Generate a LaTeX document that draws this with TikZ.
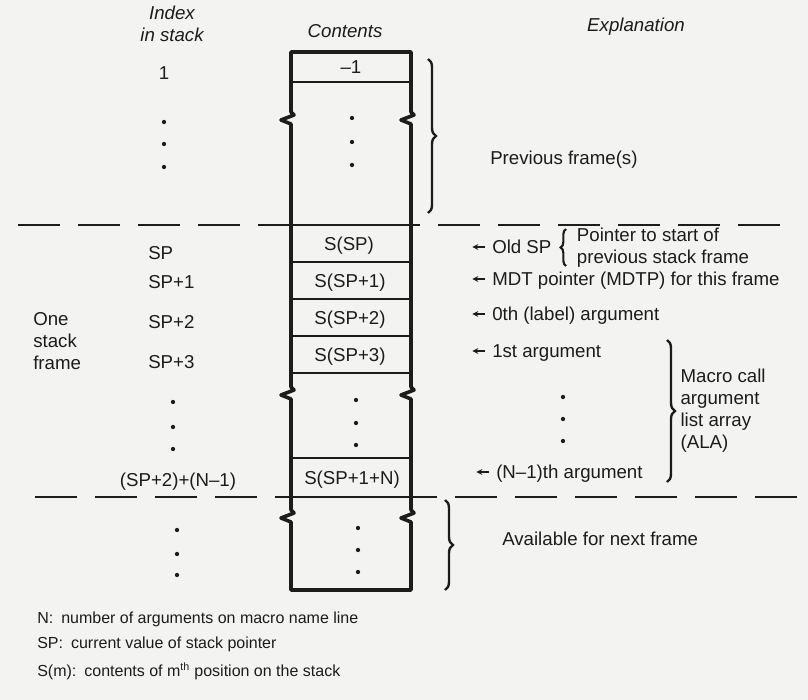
\documentclass[tikz,border=0pt]{standalone}
\usepackage{fontspec}
\setmainfont{Liberation Sans}
\usepackage{tikz}
\usetikzlibrary{arrows.meta, positioning, decorations.pathreplacing}
\definecolor{ink}{RGB}{28,28,28}
\definecolor{paper}{RGB}{243,243,241}
\tikzset{
  hdr/.style={font=\fontsize{14}{16}\selectfont\itshape, inner sep=0pt, text height=10pt, text depth=0pt, text=ink},
  cell/.style={font=\fontsize{14}{16}\selectfont, inner sep=0pt, text height=10pt, text depth=0pt, text=ink},
  lbl/.style={font=\fontsize{14}{16}\selectfont, inner sep=0pt, anchor=west, text height=10pt, text depth=0pt, text=ink},
  multi/.style={font=\fontsize{14}{16.5}\selectfont, inner sep=0pt, anchor=west, align=left, text=ink},
  legend/.style={font=\fontsize{12}{14}\selectfont, inner sep=0pt, anchor=west, text height=9pt, text depth=0pt, text=ink},
  vdot/.style={circle, fill=ink, inner sep=0pt, minimum size=3.2pt},
  boxline/.style={draw=ink, line width=2.7pt, line join=round},
  rowline/.style={draw=ink, line width=1.8pt},
  framesep/.style={draw=ink, line width=2pt, dash pattern=on 31.5pt off 13.5pt},
  brace/.style={draw=ink, line width=1.8pt, decorate, decoration={brace, amplitude=6pt}},
  smallbrace/.style={draw=ink, line width=1.6pt, decorate, decoration={brace, amplitude=4pt}},
  ptr/.style={draw=ink, line width=1.1pt, -{Stealth[length=4.5pt, width=4.5pt]}}
}

\begin{document}
\begin{tikzpicture}[x=0.75pt, y=-0.75pt]
% Page
\fill[paper] (0,0) rectangle (808,700);
\useasboundingbox (0,0) rectangle (808,700);

% Column headings
\node[hdr] (hidx) at (172,13) {Index};
\node[hdr] (hidx2) at (172,35) {in stack};
\node[hdr] (hcont) at (345,31) {Contents};
\node[hdr] (hexp) at (636,25) {Explanation};

% Frame boundaries
\draw[framesep] (18,225) -- (795,225);
\draw[framesep] (35,497) -- (800,497);

% Stack outline with break marks
\draw[boxline] (291,52) -- (411,52)
  -- (411,112) -- ++(3,3) -- ++(-13,5) -- ++(10,4)
  -- (411,387) -- ++(3,3) -- ++(-13,5) -- ++(10,4)
  -- (411,510) -- ++(3,3) -- ++(-13,5) -- ++(10,4)
  -- (411,590) -- (291,590)
  -- (291,522) -- ++(-10,-4) -- ++(13,-5) -- ++(-3,-3)
  -- (291,399) -- ++(-10,-4) -- ++(13,-5) -- ++(-3,-3)
  -- (291,124) -- ++(-10,-4) -- ++(13,-5) -- ++(-3,-3)
  -- cycle;
\foreach \y in {82,262,299,336,373,458}
  \draw[rowline] (291,\y) -- (411,\y);
\foreach \y in {225,497}
  \draw[rowline, line width=2pt] (291,\y) -- (411,\y);

% Contents
\node[cell] (c0) at (351,67) {--1};
\node[cell] (c1) at (349,243.5) {S(SP)};
\node[cell] (c2) at (350,280.5) {S(SP+1)};
\node[cell] (c3) at (350,317.5) {S(SP+2)};
\node[cell] (c4) at (350,354.5) {S(SP+3)};
\node[cell] (cn) at (352,477.5) {S(SP+1+N)};
\foreach \y in {118,142,165} \node[vdot] (pd\y) at (352,\y) {};
\foreach \y in {400,423,445} \node[vdot] (md\y) at (356,\y) {};
\foreach \y in {528,550,572} \node[vdot] (nd\y) at (358,\y) {};

% Index in stack
\node[cell] (i1) at (164,73) {1};
\foreach \y in {122,144,167} \node[vdot] (id\y) at (164,\y) {};
\node[lbl] (isp) at (148,253) {SP};
\node[lbl] (isp1) at (148,282) {SP+1};
\node[lbl] (isp2) at (148,322) {SP+2};
\node[lbl] (isp3) at (148,362) {SP+3};
\foreach \y in {402,427,449} \node[vdot] (jd\y) at (173,\y) {};
\node[cell] (ilast) at (178,480) {(SP+2)+(N--1)};
\foreach \y in {530,554,575} \node[vdot] (kd\y) at (177,\y) {};
\node[multi] (oneframe) at (33,341) {One\\stack\\frame};

% Explanation
\coordinate (pfT) at (428,59);
\coordinate (pfB) at (428,213);
\draw[brace] (pfT) -- (pfB);
\node[lbl] (prev) at (490,158) {Previous frame(s)};

\node[lbl] (oldsp) at (492,247) {Old SP};
\draw[ptr] ([xshift=-5pt]oldsp.west) -- ++(-13,0);
\coordinate (obB) at (566,266);
\coordinate (obT) at (566,229);
\coordinate (obm) at (566,247.5);
\draw[smallbrace] (obB) -- (obT);
\node[multi, right=8pt of obm] (ptrnote) {Pointer to start of\\previous stack frame};

\node[lbl] (mdtp) at (492,279) {MDT pointer (MDTP) for this frame};
\draw[ptr] ([xshift=-5pt]mdtp.west) -- ++(-13,0);
\node[lbl] (arg0) at (492,314) {0th (label) argument};
\draw[ptr] ([xshift=-5pt]arg0.west) -- ++(-13,0);
\node[lbl] (arg1) at (492,351) {1st argument};
\draw[ptr] ([xshift=-5pt]arg1.west) -- ++(-13,0);
\foreach \y in {397,419,441} \node[vdot] (ad\y) at (563,\y) {};
\node[lbl] (argn) at (496,472) {(N--1)th argument};
\draw[ptr] ([xshift=-5pt]argn.west) -- ++(-13,0);

\coordinate (mbT) at (667,340);
\coordinate (mbB) at (667,482);
\coordinate (mbm) at (667,411);
\draw[brace] (mbT) -- (mbB);
\node[multi, right=10pt of mbm] (ala) {Macro call\\argument\\list array\\(ALA)};

\coordinate (avT) at (445,500);
\coordinate (avB) at (445,590);
\draw[brace] (avT) -- (avB);
\node[lbl] (avail) at (502,539) {Available for next frame};

% Legend
\node[legend] (legn) at (37,617.5) {N:\enspace number of arguments on macro name line};
\node[legend] (legsp) at (37,642.5) {SP:\enspace current value of stack pointer};
\node[legend] (legs) at (37,670.5) {S(m):\enspace contents of m\textsuperscript{th} position on the stack};
\end{tikzpicture}
\end{document}
